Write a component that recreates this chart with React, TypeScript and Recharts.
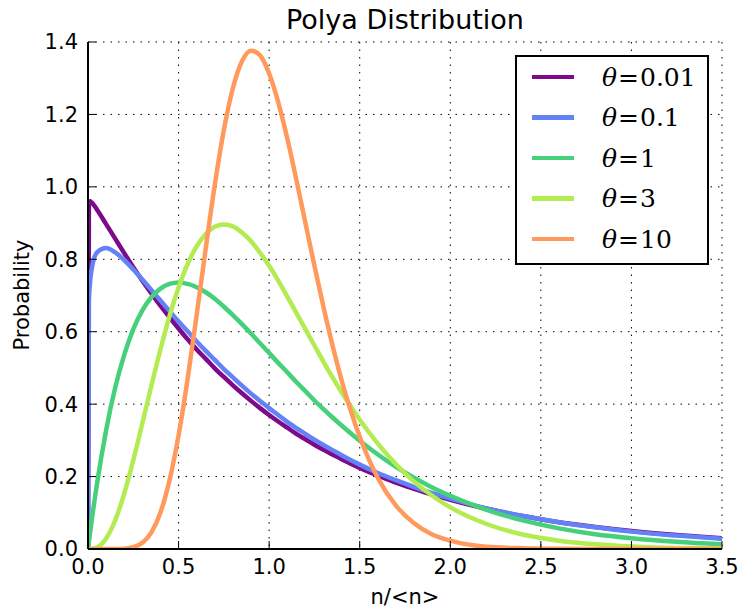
import React from 'react';
import { LineChart, Line, XAxis, YAxis, CartesianGrid, Legend } from 'recharts';

const xValues = [0, 0.005, 0.01, 0.02, 0.05, 0.1, 0.15, 0.2, 0.25, 0.3, 0.35, 0.4, 0.45, 0.5, 0.55, 0.6, 0.65, 0.7, 0.75, 0.8, 0.85, 0.9, 0.95, 1.0, 1.05, 1.1, 1.15, 1.2, 1.25, 1.3, 1.35, 1.4, 1.5, 1.6, 1.7, 1.8, 1.9, 2.0, 2.2, 2.4, 2.6, 2.8, 3.0, 3.25, 3.5];

const theta001 = [0, 0.958, 0.960, 0.957, 0.937, 0.897, 0.857, 0.817, 0.778, 0.741, 0.706, 0.672, 0.640, 0.609, 0.579, 0.551, 0.525, 0.499, 0.475, 0.452, 0.430, 0.409, 0.389, 0.370, 0.352, 0.335, 0.318, 0.303, 0.288, 0.274, 0.261, 0.248, 0.224, 0.203, 0.183, 0.166, 0.150, 0.136, 0.111, 0.091, 0.074, 0.061, 0.050, 0.039, 0.030];
const theta01 = [0, 0.683, 0.729, 0.772, 0.819, 0.831, 0.819, 0.798, 0.772, 0.744, 0.715, 0.686, 0.657, 0.628, 0.601, 0.573, 0.547, 0.522, 0.497, 0.474, 0.451, 0.429, 0.409, 0.389, 0.370, 0.351, 0.334, 0.318, 0.302, 0.287, 0.273, 0.259, 0.233, 0.210, 0.190, 0.171, 0.154, 0.139, 0.112, 0.091, 0.074, 0.060, 0.048, 0.037, 0.028];
const theta1 = [0, 0.020, 0.039, 0.077, 0.181, 0.328, 0.445, 0.536, 0.607, 0.659, 0.695, 0.719, 0.732, 0.736, 0.732, 0.723, 0.709, 0.691, 0.669, 0.646, 0.621, 0.595, 0.568, 0.541, 0.514, 0.488, 0.461, 0.436, 0.410, 0.386, 0.363, 0.341, 0.299, 0.261, 0.227, 0.197, 0.170, 0.147, 0.108, 0.079, 0.057, 0.041, 0.030, 0.020, 0.013];
const theta3 = [0, 0, 0, 0.0003, 0.004, 0.029, 0.079, 0.153, 0.245, 0.347, 0.451, 0.551, 0.643, 0.722, 0.787, 0.836, 0.870, 0.890, 0.896, 0.891, 0.874, 0.850, 0.818, 0.782, 0.741, 0.697, 0.652, 0.607, 0.562, 0.517, 0.474, 0.433, 0.357, 0.291, 0.234, 0.186, 0.147, 0.115, 0.069, 0.040, 0.023, 0.013, 0.007, 0.003, 0.002];
const theta10 = [0, 0, 0, 0, 0, 0, 0.0001, 0.001, 0.005, 0.017, 0.046, 0.101, 0.190, 0.314, 0.470, 0.647, 0.830, 1.006, 1.157, 1.273, 1.347, 1.376, 1.363, 1.313, 1.234, 1.134, 1.020, 0.901, 0.782, 0.668, 0.562, 0.466, 0.310, 0.196, 0.120, 0.071, 0.040, 0.023, 0.006, 0.002, 0.0004, 0, 0, 0, 0];

const seriesKeys = ['t001', 't01', 't1', 't3', 't10'];
const seriesNames = ['0.01', '0.1', '1', '3', '10'];
const seriesColors = ['#7d0a8a', '#6482f7', '#46d07c', '#b3ec50', '#ff9a5c'];
const seriesValues = [theta001, theta01, theta1, theta3, theta10];

const xTicks = [0, 0.5, 1.0, 1.5, 2.0, 2.5, 3.0, 3.5];
const yTicks = [0, 0.2, 0.4, 0.6, 0.8, 1.0, 1.2, 1.4];

const titleText = 'Polya Distribution';
const xLabel = 'n/<n>';
const yLabel = 'Probability';

const data = xValues.map((x, i) => {
  const row: Record<string, number> = { x };
  seriesKeys.forEach((k, j) => {
    row[k] = seriesValues[j][i];
  });
  return row;
});

const FONT = '"DejaVu Sans", Verdana, sans-serif';
const TICK_FONT = 21;
const TICK_LEN = 8;
const MARGIN = 10;

const BottomTick = (props: any) => {
  const { x, y, payload } = props;
  return (
    <g>
      <line x1={x} x2={x} y1={y - MARGIN} y2={y - MARGIN - TICK_LEN} stroke="#000" strokeWidth={1} />
      <text x={x} y={y} dy="0.71em" textAnchor="middle" fontSize={TICK_FONT} fontFamily={FONT} fill="#000">
        {Number(payload.value).toFixed(1)}
      </text>
    </g>
  );
};

const LeftTick = (props: any) => {
  const { x, y, payload } = props;
  return (
    <g>
      <line x1={x + MARGIN} x2={x + MARGIN + TICK_LEN} y1={y} y2={y} stroke="#000" strokeWidth={1} />
      <text x={x} y={y} dy="0.355em" textAnchor="end" fontSize={TICK_FONT} fontFamily={FONT} fill="#000">
        {Number(payload.value).toFixed(1)}
      </text>
    </g>
  );
};

const TopTick = (props: any) => {
  const { x, y } = props;
  return <line x1={x} x2={x} y1={y} y2={y + TICK_LEN} stroke="#000" strokeWidth={1} />;
};

const RightTick = (props: any) => {
  const { x, y } = props;
  return <line x1={x} x2={x - TICK_LEN} y1={y} y2={y} stroke="#000" strokeWidth={1} />;
};

function LegendBox() {
  return (
    <div
      style={{
        width: 194,
        height: 210,
        boxSizing: 'border-box',
        border: '2px solid #000',
        background: '#fff',
        position: 'relative',
      }}
    >
      {seriesNames.map((name, i) => (
        <div
          key={name}
          style={{
            position: 'absolute',
            left: 0,
            top: 0 + i * 40.5,
            height: 40,
            display: 'flex',
            alignItems: 'center',
          }}
        >
          <div style={{ marginLeft: 15, width: 42, height: 4.5, background: seriesColors[i] }} />
          <span
            style={{
              marginLeft: 28,
              fontFamily: '"DejaVu Serif", "Liberation Serif", serif',
              fontSize: 25,
              color: '#000',
              whiteSpace: 'nowrap',
            }}
          >
            <i>θ</i>
            <span style={{ margin: '0 1px' }}>=</span>
            <span>{name}</span>
          </span>
        </div>
      ))}
    </div>
  );
}

export default function App() {
  return (
    <div style={{ position: 'absolute', left: 0, top: 0, width: 740, height: 613, background: '#fff' }}>
      <LineChart width={740} height={613} data={data} margin={{ top: 42, right: 18, bottom: 0, left: 0 }}>
        <CartesianGrid stroke="#000" strokeDasharray="1.5 6" strokeWidth={1} />
        <XAxis
          dataKey="x"
          type="number"
          domain={[0, 3.5]}
          ticks={xTicks}
          interval={0}
          allowDataOverflow
          height={64}
          tick={<BottomTick />}
          tickSize={0}
          tickMargin={MARGIN}
          tickLine={false}
          axisLine={{ stroke: '#000', strokeWidth: 2 }}
        />
        <XAxis
          xAxisId="top"
          orientation="top"
          dataKey="x"
          type="number"
          domain={[0, 3.5]}
          ticks={xTicks}
          interval={0}
          allowDataOverflow
          height={0}
          tick={<TopTick />}
          tickSize={0}
          tickMargin={0}
          tickLine={false}
          axisLine={{ stroke: '#000', strokeWidth: 2 }}
        />
        <YAxis
          type="number"
          domain={[0, 1.4]}
          ticks={yTicks}
          interval={0}
          allowDataOverflow
          width={88}
          tick={<LeftTick />}
          tickSize={0}
          tickMargin={MARGIN}
          tickLine={false}
          axisLine={{ stroke: '#000', strokeWidth: 2 }}
        />
        <YAxis
          yAxisId="right"
          orientation="right"
          type="number"
          domain={[0, 1.4]}
          ticks={yTicks}
          interval={0}
          allowDataOverflow
          width={0}
          tick={<RightTick />}
          tickSize={0}
          tickMargin={0}
          tickLine={false}
          axisLine={{ stroke: '#000', strokeWidth: 2 }}
        />
        {seriesKeys.map((k, j) => (
          <Line
            key={k}
            type="monotone"
            dataKey={k}
            name={seriesNames[j]}
            stroke={seriesColors[j]}
            strokeWidth={4.5}
            dot={false}
            activeDot={false}
            isAnimationActive={false}
          />
        ))}
        <Legend
          layout="vertical"
          align="center"
          verticalAlign="middle"
          content={<LegendBox />}
          wrapperStyle={{ position: 'absolute', left: 515, top: 55, width: 194, height: 210 }}
        />
        <text x={405} y={29} textAnchor="middle" fontSize={27} fontFamily={FONT} fill="#000">
          {titleText}
        </text>
        <text x={405} y={604} textAnchor="middle" fontSize={21} fontFamily={FONT} fill="#000">
          {xLabel}
        </text>
        <text
          x={-295}
          y={29}
          transform="rotate(-90)"
          textAnchor="middle"
          fontSize={21}
          fontFamily={FONT}
          fill="#000"
        >
          {yLabel}
        </text>
      </LineChart>
    </div>
  );
}
